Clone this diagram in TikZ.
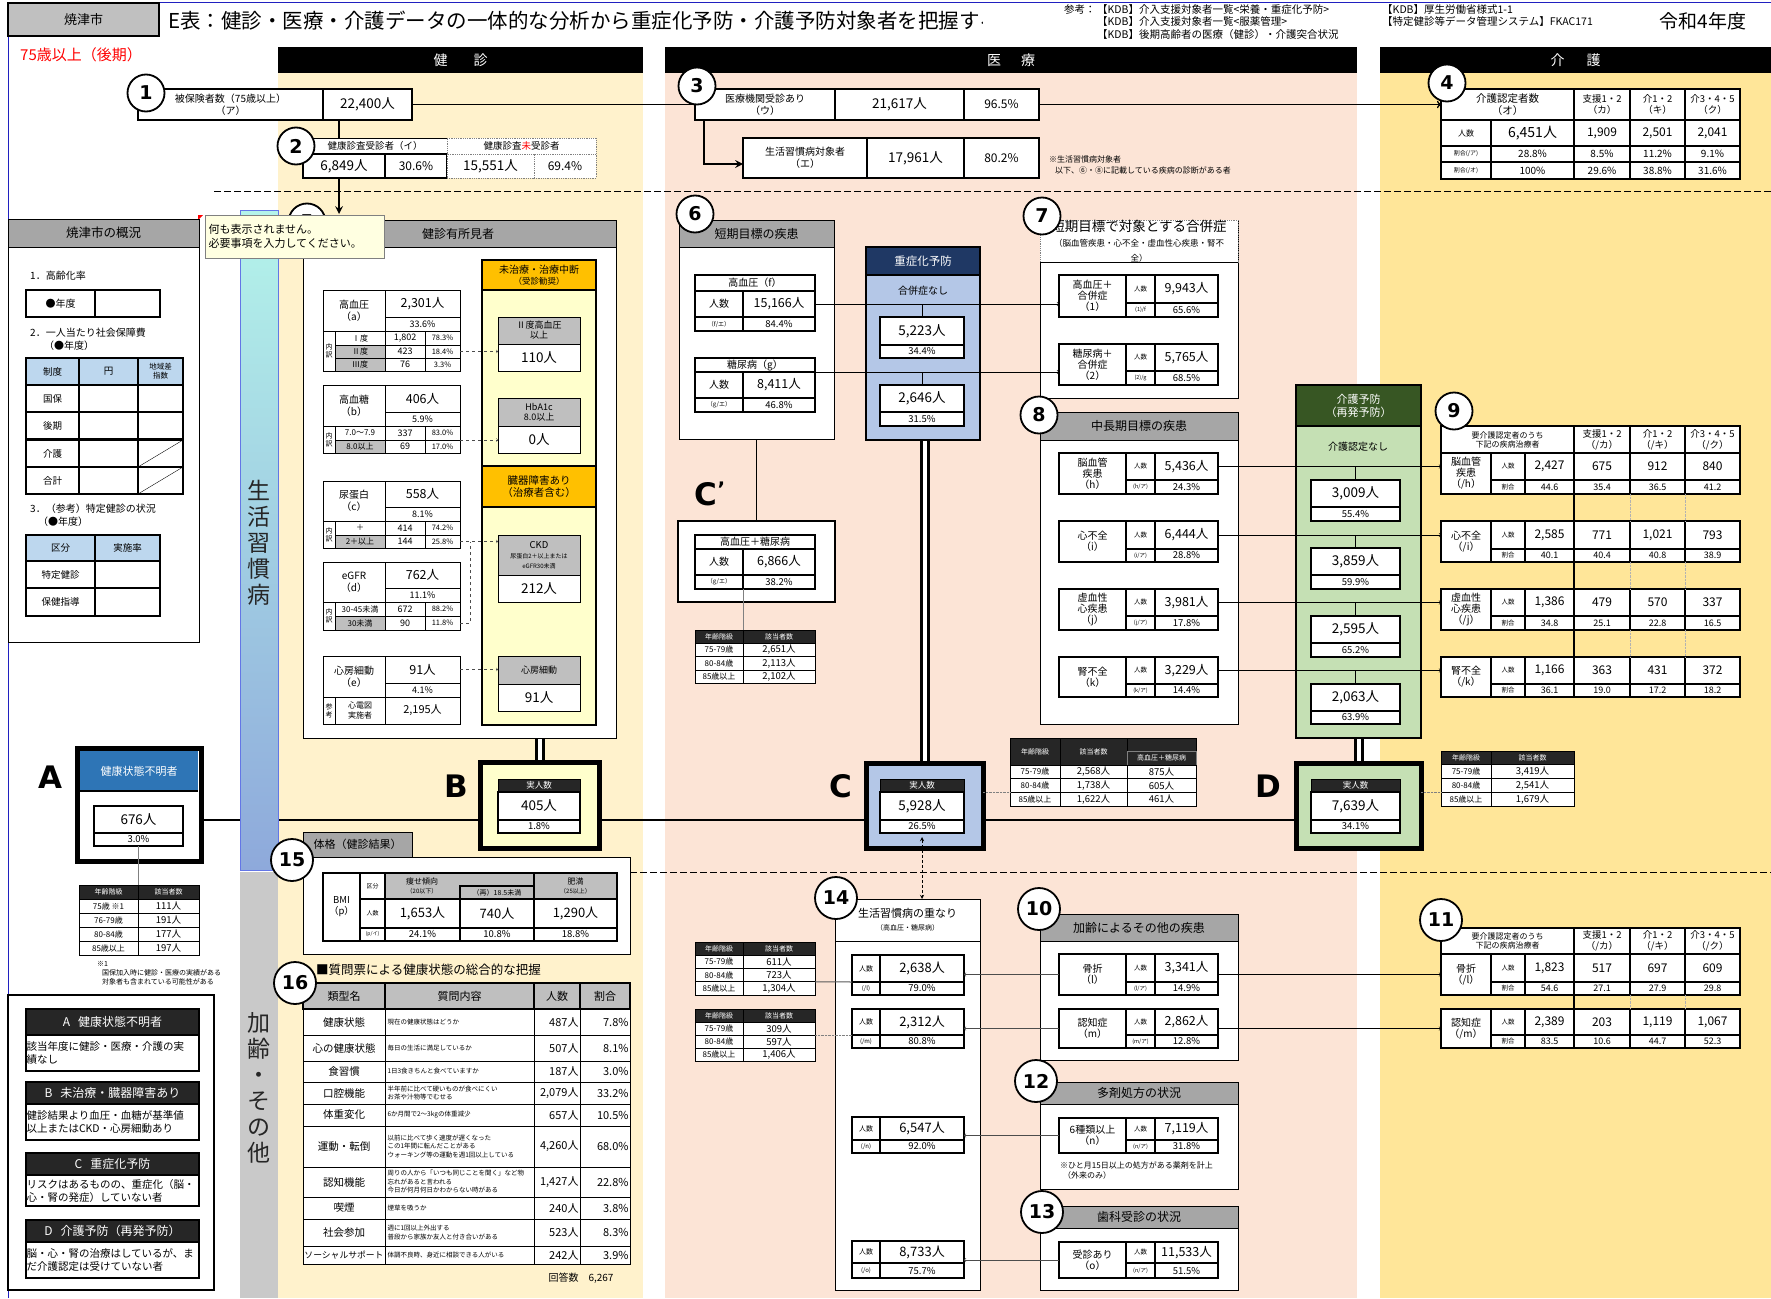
\documentclass[tikz,border=0pt]{standalone}
\usepackage{fontspec}
\setmainfont{Noto Sans CJK JP}
\newfontfamily\lat{DejaVu Sans}
\usetikzlibrary{positioning, arrows, calc}

\definecolor{kenshin}{HTML}{FFF2CC}
\definecolor{iryo}{HTML}{FCE4D6}
\definecolor{kaigo}{HTML}{FFE699}
\definecolor{hdgray}{HTML}{A6A6A6}
\definecolor{cgray}{HTML}{BFBFBF}
\definecolor{cityg}{HTML}{C0C0C0}
\definecolor{dk}{HTML}{262626}
\definecolor{orng}{HTML}{FFC000}
\definecolor{lyel}{HTML}{FFFFCC}
\definecolor{navy}{HTML}{1F3864}
\definecolor{lblue}{HTML}{B4C7E7}
\definecolor{dgreen}{HTML}{375623}
\definecolor{lgreen}{HTML}{C5E0B4}
\definecolor{ablue}{HTML}{2E75B6}
\definecolor{tblue}{HTML}{BDD7EE}
\definecolor{memoy}{HTML}{FFFFE1}
\definecolor{aqua}{HTML}{B4F4EA}
\definecolor{barblue}{HTML}{8EA9DB}
\definecolor{barg}{HTML}{C9C9C9}
\definecolor{pageblue}{HTML}{2020C0}

\pgfdeclarelayer{back}
\pgfdeclarelayer{lines}
\pgfsetlayers{back,lines,main}

\tikzset{
  >=stealth,
  cell/.style={draw, line width=0.8pt, fill=white, inner sep=0pt, outer sep=0pt,
    align=center, font=\fs{9}{10}},
  tb/.style={line width=1.2pt},
  grayhd/.style={fill=hdgray, font=\fs{12}{14}},
  dkhd/.style={fill=dk, text=white},
  numc/.style={circle, draw, line width=1.8pt, fill=white, minimum size=37pt,
    inner sep=0pt, font=\lat\bfseries\fs{19}{19}},
  numcc/.style={numc, minimum size=42pt},
  biglab/.style={font=\lat\bfseries\fs{31}{31}},
  colhead/.style={fill=black, text=white, inner sep=0pt, anchor=north west,
    minimum height=26pt, font=\fs{14}{16}},
  conn/.style={-to, line width=0.6pt},
  dbl/.style={double, double distance=4pt, line width=3pt},
  txt/.style={anchor=west, inner sep=0pt, font=\fs{10}{12}},
}

\newcommand\fs[2]{\fontsize{#1}{#2}\selectfont}
% box by corners: name, x1, y1, x2, y2, options, text
\newcommand\tcell[7]{\node[cell,minimum width={((#4)-(#2))*1pt},
  minimum height={((#5)-(#3))*1pt},anchor=north west,#6] (#1) at ({#2},{#3}) {#7};}

% health check findings
\newcommand\hmain[7]{%
  \tcell{#1L}{323}{#2}{385}{#4}{font=\fs{10}{12}}{#5}
  \tcell{#1V}{385}{#2}{460}{#3}{font=\fs{12.5}{14}}{#6}
  \tcell{#1P}{385}{#3}{460}{#4}{font=\fs{9}{10}}{#7}}
\newcommand\hsub[7]{%
  \tcell{#1}{335}{#2}{385}{#3}{fill=#7,font=\fs{8}{9}}{#4}
  \tcell{#1n}{385}{#2}{425}{#3}{font=\fs{9}{10}}{#5}
  \tcell{#1p}{425}{#2}{460}{#3}{font=\fs{7.5}{8}}{#6}}

% short tables in column 6
\newcommand\stab[9]{%
  \tcell{#1t}{695}{#2}{815}{#3}{tb,font=\fs{10}{11}}{#6}
  \tcell{#1n}{695}{#3}{743}{#4}{tb,font=\fs{10}{11}}{人数}
  \tcell{#1v}{743}{#3}{815}{#4}{tb,font=\fs{12.5}{14}}{#7}
  \tcell{#1r}{695}{#4}{743}{#5}{tb,font=\fs{6}{7}}{#8}
  \tcell{#1p}{743}{#4}{815}{#5}{tb,font=\fs{9.5}{10}}{#9}}

% disease tables (7, 8, 10, 12, 13)
\newcommand\dtab[8]{%
  \tcell{#1L}{1059}{#2}{1126}{#4}{tb,font=\fs{10}{11}}{#5}
  \tcell{#1n}{1126}{#2}{1155}{#3}{tb,font=\fs{6.5}{7}}{人数}
  \tcell{#1v}{1155}{#2}{1218}{#3}{tb,font=\fs{12.5}{14}}{#7}
  \tcell{#1r}{1126}{#3}{1155}{#4}{tb,font=\fs{5.5}{6}}{#6}
  \tcell{#1p}{1155}{#3}{1218}{#4}{tb,font=\fs{9.5}{10}}{#8}}

% boxes in 14
\newcommand\gtab[7]{%
  \tcell{#1n}{852}{#2}{880}{#3}{tb,font=\fs{7}{8}}{人数}
  \tcell{#1v}{880}{#2}{964}{#3}{tb,font=\fs{13}{15}}{#6}
  \tcell{#1r}{852}{#3}{880}{#4}{tb,font=\fs{6}{7}}{#5}
  \tcell{#1p}{880}{#3}{964}{#4}{tb,font=\fs{9.5}{10}}{#7}}

% value + ratio pair
\newcommand\vpair[8]{%
  \tcell{#1v}{#2}{#4}{#3}{#5}{tb,font=\fs{13.5}{15}}{#7}
  \tcell{#1p}{#2}{#5}{#3}{#6}{tb,font=\fs{9.5}{10}}{#8}}

% care tables (9, 11)
\newcommand\kleft[5]{%
  \tcell{#1L}{1441}{#2}{1491}{#4}{tb,font=\fs{10}{11}}{#5}
  \tcell{#1n}{1491}{#2}{1525}{#3}{tb,font=\fs{6.5}{7}}{人数}
  \tcell{#1r}{1491}{#3}{1525}{#4}{tb,font=\fs{6.5}{7}}{割合}}
\newcommand\kvals[5]{%
  \foreach \kv/\kp [count=\c] in {#5} {
    \pgfmathsetmacro\xa{{1525,1574,1630,1685}[\c-1]}
    \pgfmathsetmacro\xb{{1574,1630,1685,1740}[\c-1]}
    \tcell{#1v\c}{\xa}{#2}{\xb}{#3}{tb,font=\fs{12}{14}}{\kv}
    \tcell{#1p\c}{\xa}{#3}{\xb}{#4}{tb,font=\fs{9}{10}}{\kp}
  }}
\newcommand\khead[3]{%
  \tcell{#1}{1441}{#2}{1574}{#3}{tb,font=\fs{8}{9}}{要介護認定者のうち\\下記の疾病治療者}
  \tcell{#1b}{1574}{#2}{1630}{#3}{tb,font=\fs{9.5}{11}}{支援1・2\\（/カ）}
  \tcell{#1c}{1630}{#2}{1685}{#3}{tb,font=\fs{9.5}{11}}{介1・2\\（/キ）}
  \tcell{#1d}{1685}{#2}{1740}{#3}{tb,font=\fs{9.5}{11}}{介3・4・5\\（/ク）}}

% age tables: name, x0, xm, x1, y0, row height, rows
\newcommand\agetab[7]{%
  \tcell{#1-ha}{#2}{#5}{#3}{#5+#6}{dkhd,font=\fs{7}{8}}{年齢階級}
  \tcell{#1-hb}{#3}{#5}{#4}{#5+#6}{dkhd,font=\fs{7}{8}}{該当者数}
  \foreach \ka/\kb [count=\i] in {#7} {
    \tcell{#1-a\i}{#2}{#5+#6*\i}{#3}{#5+#6*\i+#6}{font=\fs{8}{9}}{\ka}
    \tcell{#1-b\i}{#3}{#5+#6*\i}{#4}{#5+#6*\i+#6}{font=\fs{9.5}{10}}{\kb}
  }}

% questionnaire rows
\newcommand\qrow[7]{%
  \tcell{#1t}{303}{#2}{385}{#3}{font=\fs{10.5}{12}}{#4}
  \tcell{#1c}{385}{#2}{534}{#3}{font=\fs{6.5}{8.5},align=left,text width=144pt}{#5}
  \tcell{#1n}{534}{#2}{580}{#3}{font=\fs{11}{12},align=right,text width=43pt}{#6}
  \tcell{#1p}{580}{#2}{630}{#3}{font=\fs{11}{12},align=right,text width=47pt}{#7}}

% legend blocks
\newcommand\lgblock[6]{%
  \tcell{#1h}{26}{#2}{199}{#3}{dkhd,tb,font=\fs{12}{14}}{#5}
  \tcell{#1b}{26}{#3}{199}{#4}{tb,text width=172pt,align=left,font=\fs{10.5}{13}}{#6}}

\begin{document}
\begin{tikzpicture}[x=1pt, y=-1pt]
\useasboundingbox (0,0) rectangle (1771,1298);

\begin{pgfonlayer}{back}
  \fill[white] (0,0) rectangle (1771,1298);
  \fill[kenshin] (278,73) rectangle (643,1298);
  \fill[iryo] (665,73) rectangle (1357,1298);
  \fill[kaigo] (1380,73) rectangle (1771,1298);
  \draw[pageblue, line width=1pt] (8,1298) -- (8,3) -- (1771,3);
  \draw[dash pattern=on 7pt off 3pt, line width=0.8pt] (214,191) -- (1771,191);
  \draw[dash pattern=on 7pt off 3pt, line width=0.8pt] (240,872) -- (1771,872);
\end{pgfonlayer}

% side bars
\shade[top color=aqua, bottom color=barblue, draw=barblue!70!blue] (240,210) rectangle (278,870);
\fill[barg] (240,872) rectangle (278,1298);
\node[align=center, inner sep=0pt, font=\fs{23}{26}, text=black!85] (barL) at (259,543) {生\\活\\習\\慣\\病};
\node[align=center, inner sep=0pt, font=\fs{23}{26}, text=black!85] (barO) at (259,1088) {加\\齢\\・\\そ\\の\\他};

% title lines
\tcell{city}{8}{3}{159}{36}{fill=cityg, line width=1.6pt, font=\fs{13}{15}}{焼津市}
\begin{scope}
  \clip (160,3) rectangle (982,40);
  \node[anchor=west, inner sep=0pt, font=\fs{20.5}{23}] (title) at (168,21)
    {E表：健診・医療・介護データの一体的な分析から重症化予防・介護予防対象者を把握する};
\end{scope}
\node[txt, font=\fs{10.5}{12.5}] (refT) at (1064,10) {参考：};
\node[anchor=north west, inner sep=0pt, align=left, font=\fs{10.5}{12.5}] (refL) at (1097,4)
  {【KDB】介入支援対象者一覧<栄養・重症化予防>\\【KDB】介入支援対象者一覧<服薬管理>\\【KDB】後期高齢者の医療（健診）・介護突合状況};
\node[anchor=north west, inner sep=0pt, align=left, font=\fs{10.5}{12.5}] (refR) at (1382,4)
  {【KDB】厚生労働省様式1-1\\【特定健診等データ管理システム】FKAC171};
\node[inner sep=0pt, font=\fs{19}{21}] (year) at (1703,21) {令和4年度};
\node[txt, text=red, font=\fs{15}{17}] (age75) at (20,55) {75歳以上（後期）};

\node[colhead, minimum width=365pt] (hdK) at (278,47) {健\hspace{26pt}診};
\node[colhead, minimum width=692pt] (hdI) at (665,47) {医\hspace{20pt}療};
\node[colhead, minimum width=391pt] (hdC) at (1380,47) {介\hspace{22pt}護};

% 1
\tcell{v1lab}{138}{89}{323}{120}{tb, font=\fs{10}{12}}{被保険者数（75歳以上）\\（ア）}
\tcell{v1val}{323}{89}{412}{120}{tb, font=\fs{13.5}{15}}{22,400人}
\node[numc] (n1) at (146,93) {1};

% 4
\tcell{k4h1}{1441}{89}{1574}{120}{tb, font=\fs{10.5}{12}}{介護認定者数\\（オ）}
\tcell{k4h2}{1574}{89}{1630}{120}{tb, font=\fs{9.5}{11}}{支援1・2\\（カ）}
\tcell{k4h3}{1630}{89}{1685}{120}{tb, font=\fs{9.5}{11}}{介1・2\\（キ）}
\tcell{k4h4}{1685}{89}{1740}{120}{tb, font=\fs{9.5}{11}}{介3・4・5\\（ク）}
\tcell{k4n}{1441}{120}{1491}{146}{tb, font=\fs{8}{9}}{人数}
\tcell{k4v1}{1491}{120}{1574}{146}{tb, font=\fs{14}{16}}{6,451人}
\tcell{k4v2}{1574}{120}{1630}{146}{tb, font=\fs{12}{14}}{1,909}
\tcell{k4v3}{1630}{120}{1685}{146}{tb, font=\fs{12}{14}}{2,501}
\tcell{k4v4}{1685}{120}{1740}{146}{tb, font=\fs{12}{14}}{2,041}
\tcell{k4a}{1441}{146}{1491}{162}{tb, font=\fs{6}{7}}{割合(/ア)}
\tcell{k4a1}{1491}{146}{1574}{162}{tb, font=\fs{10}{11}}{28.8\%}
\tcell{k4a2}{1574}{146}{1630}{162}{tb, font=\fs{10}{11}}{8.5\%}
\tcell{k4a3}{1630}{146}{1685}{162}{tb, font=\fs{10}{11}}{11.2\%}
\tcell{k4a4}{1685}{146}{1740}{162}{tb, font=\fs{10}{11}}{9.1\%}
\tcell{k4o}{1441}{162}{1491}{179}{tb, font=\fs{6}{7}}{割合(/オ)}
\tcell{k4o1}{1491}{162}{1574}{179}{tb, font=\fs{10}{11}}{100\%}
\tcell{k4o2}{1574}{162}{1630}{179}{tb, font=\fs{10}{11}}{29.6\%}
\tcell{k4o3}{1630}{162}{1685}{179}{tb, font=\fs{10}{11}}{38.8\%}
\tcell{k4o4}{1685}{162}{1740}{179}{tb, font=\fs{10}{11}}{31.6\%}
\draw[line width=2.2pt] (k4h1.north west) rectangle (k4o4.south east);
\node[numc] (n4) at (1447,83) {4};

% 2
\coordinate (x339) at (339,0);
\tcell{v2ha}{303}{138}{447}{154}{font=\fs{9.5}{11}}{健康診査受診者（イ）}
\tcell{v2a}{303}{154}{385}{178}{tb, font=\fs{13.5}{15}}{6,849人}
\tcell{v2b}{385}{154}{447}{178}{tb, font=\fs{12}{14}}{30.6\%}
\tcell{v2hb}{447}{138}{596}{154}{draw=gray, densely dotted, font=\fs{9.5}{11}}{健康診査\textcolor{red}{未}受診者}
\tcell{v2c}{447}{154}{534}{178}{draw=gray, densely dotted, font=\fs{13.5}{15}}{15,551人}
\tcell{v2d}{534}{154}{596}{178}{draw=gray, densely dotted, font=\fs{12}{14}}{69.4\%}
\node[numc] (n2) at (296,146) {2};
\draw[line width=1.6pt] (v1val.south -| x339) -- (v2ha.north -| x339);

% 5
\tcell{hs}{300}{220}{616}{247}{grayhd}{健診有所見者}
\tcell{hsbody}{303}{247}{616}{738}{}{}
\node[numc] (n5) at (307,222) {5};
\coordinate (a5) at (339,214);
\draw[->, line width=2.4pt] (v2a.south -| x339) -- (a5);
\tcell{memo}{205}{215}{384}{258}{fill=memoy, draw=gray, text width=172pt, align=left, font=\fs{11}{14}}{何も表示されません。\\必要事項を入力してください。}
\fill[red] (198,215) -- (203,215) -- (198,220) -- cycle;

\hmain{a}{290}{317}{331}{高血圧\\（a）}{2,301人}{33.6\%}
\tcell{au}{323}{331}{335}{371}{font=\fs{7}{8}}{内\\訳}
\hsub{a1}{331}{345}{Ⅰ度}{1,802}{78.3\%}{white}
\hsub{a2}{345}{358}{Ⅱ度}{423}{18.4\%}{cgray}
\hsub{a3}{358}{371}{Ⅲ度}{76}{3.3\%}{cgray}
\hmain{b}{385}{412}{426}{高血糖\\（b）}{406人}{5.9\%}
\tcell{bu}{323}{426}{335}{453}{font=\fs{7}{8}}{内\\訳}
\hsub{b1}{426}{440}{7.0～7.9}{337}{83.0\%}{white}
\hsub{b2}{440}{453}{8.0以上}{69}{17.0\%}{cgray}
\hmain{c}{481}{507}{521}{尿蛋白\\（c）}{558人}{8.1\%}
\tcell{cu}{323}{521}{335}{548}{font=\fs{7}{8}}{内\\訳}
\hsub{c1}{521}{535}{＋}{414}{74.2\%}{white}
\hsub{c2}{535}{548}{2＋以上}{144}{25.8\%}{cgray}
\hmain{d}{562}{588}{602}{eGFR\\（d）}{762人}{11.1\%}
\tcell{du}{323}{602}{335}{630}{font=\fs{7}{8}}{内\\訳}
\hsub{d1}{602}{616}{30-45未満}{672}{88.2\%}{white}
\hsub{d2}{616}{630}{30未満}{90}{11.8\%}{cgray}
\hmain{e}{656}{683}{697}{心房細動\\（e）}{91人}{4.1\%}
\tcell{eu}{323}{697}{335}{724}{font=\fs{7}{8}}{参\\考}
\tcell{er}{335}{697}{385}{724}{font=\fs{8}{9.5}}{心電図\\実施者}
\tcell{erv}{385}{697}{460}{724}{font=\fs{11}{12}}{2,195人}

\tcell{mt}{482}{260}{596}{725}{fill=lyel, line width=2pt}{}
\tcell{mth}{482}{260}{596}{290}{fill=orng, line width=2pt, font=\fs{10}{11}}{未治療・治療中断\\\fs{8.5}{10}（受診勧奨）}
\tcell{mth2}{482}{466}{596}{507}{fill=orng, line width=2pt, font=\fs{10.5}{12}}{臓器障害あり\\（治療者含む）}
\tcell{bp2h}{498}{317}{580}{344}{fill=cgray, font=\fs{9}{10}}{Ⅱ度高血圧\\以上}
\tcell{bp2}{498}{344}{580}{371}{font=\fs{13.5}{15}}{110人}
\tcell{hbh}{498}{398}{580}{426}{fill=cgray, font=\fs{9}{10}}{HbA1c\\8.0以上}
\tcell{hb}{498}{426}{580}{453}{font=\fs{13.5}{15}}{0人}
\tcell{ckdh}{498}{535}{580}{575}{fill=cgray, font=\fs{9.5}{10}}{CKD\\\fs{6}{7}尿蛋白2＋以上または\\\fs{6}{7}eGFR30未満}
\tcell{ckd}{498}{575}{580}{602}{font=\fs{13.5}{15}}{212人}
\tcell{afh}{498}{656}{580}{684}{fill=cgray, font=\fs{9}{10}}{心房細動}
\tcell{af}{498}{684}{580}{711}{font=\fs{13.5}{15}}{91人}
\draw[dashed, -to, black!70] (a2p.east) -- (a2p.east -| bp2.west);
\draw[dashed, -to, black!70] (b2p.north east) -- (b2p.north east -| hb.west);
\draw[dashed, -to, black!70] (c2p.east) -- (c2p.east -| ckdh.west);
\draw[dashed, black!70] (d2p.east) -| ([xshift=10pt]c2p.east);
\draw[dashed, -to, black!70] (eV.east) -- (eV.east -| afh.west);

% B
\tcell{Bbox}{480}{762}{599}{848}{fill=lyel, line width=5pt}{}
\tcell{Bh}{498}{779}{580}{792}{dkhd, font=\fs{8.5}{9}}{実人数}
\vpair{B}{498}{580}{792}{820}{833}{405人}{1.8\%}
\node[biglab] (labB) at (456,786) {B};

% A
\tcell{Abox}{77}{748}{201}{861}{line width=5pt}{}
\tcell{Ahd}{80}{751}{198}{791}{fill=ablue, draw=none, text=white, font=\fs{11}{13}}{健康状態不明者}
\draw[line width=1.5pt] (Ahd.south west) -- (Ahd.south east);
\vpair{A}{94}{183}{806}{833}{846}{676人}{3.0\%}
\node[biglab] (labA) at (50,777) {A};
\agetab{ageA}{79}{138}{199}{885}{14}{{75歳 ※1}/111人, 76-79歳/191人, 80-84歳/177人, 85歳以上/197人}
\draw[gray] (Ap.south) -- (Ap.south |- ageA-ha.north);
\node[anchor=north west, inner sep=0pt, align=left, font=\fs{7}{9}] (noteA) at (97,961)
  {※1\\\hspace*{5pt}国保加入時に健診・医療の実績がある\\\hspace*{5pt}対象者も含まれている可能性がある};

% overview panel
\tcell{gkb}{8}{219}{199}{642}{line width=1pt}{}
\tcell{gkh}{8}{219}{199}{247}{grayhd, line width=1pt, font=\fs{12.5}{14}}{焼津市の概況}
\node[txt] (g1t) at (30,276) {1．高齢化率};
\tcell{g1a}{26}{290}{95}{317}{tb, font=\fs{10}{12}}{●年度}
\tcell{g1b}{95}{290}{160}{317}{tb}{}
\node[txt] (g2t) at (30,333) {2．一人当たり社会保障費};
\node[txt] (g2y) at (44,346) {（●年度）};
\tcell{g2h1}{26}{358}{79}{385}{tb, fill=tblue, font=\fs{9.5}{11}}{制度}
\tcell{g2h2}{79}{358}{138}{385}{tb, fill=tblue, font=\fs{9.5}{11}}{円}
\tcell{g2h3}{138}{358}{183}{385}{tb, fill=tblue, font=\fs{7.5}{9}}{地域差\\指数}
\foreach \sname/\ya [count=\i] in {国保/385, 後期/412, 介護/440, 合計/467} {
  \tcell{g2r\i a}{26}{\ya}{79}{\ya+27}{tb, font=\fs{9.5}{11}}{\sname}
  \tcell{g2r\i b}{79}{\ya}{138}{\ya+27}{tb}{}
  \tcell{g2r\i c}{138}{\ya}{183}{\ya+27}{tb}{}
}
\draw (g2r3c.south west) -- (g2r3c.north east);
\draw (g2r4c.south west) -- (g2r4c.north east);
\node[txt] (g3t) at (30,509) {3．（参考）特定健診の状況};
\node[txt] (g3y) at (38,522) {（●年度）};
\tcell{g3h1}{26}{535}{95}{561}{tb, fill=tblue, font=\fs{9.5}{11}}{区分}
\tcell{g3h2}{95}{535}{160}{561}{tb, fill=tblue, font=\fs{9.5}{11}}{実施率}
\tcell{g3r1a}{26}{561}{95}{588}{tb, font=\fs{9.5}{11}}{特定健診}
\tcell{g3r1b}{95}{561}{160}{588}{tb}{}
\tcell{g3r2a}{26}{588}{95}{616}{tb, font=\fs{9.5}{11}}{保健指導}
\tcell{g3r2b}{95}{588}{160}{616}{tb}{}

% legend
\tcell{lg}{8}{995}{214}{1290}{line width=2pt}{}
\lgblock{lgA}{1009}{1035}{1071}{A\hspace{8pt}健康状態不明者}{該当年度に健診・医療・介護の実\\績なし}
\lgblock{lgB}{1082}{1104}{1140}{B\hspace{8pt}未治療・臓器障害あり}{健診結果より血圧・血糖が基準値\\以上またはCKD・心房細動あり}
\lgblock{lgC}{1153}{1175}{1206}{C\hspace{8pt}重症化予防}{リスクはあるものの、重症化（脳・\\心・腎の発症）していない者}
\lgblock{lgD}{1220}{1242}{1278}{D\hspace{8pt}介護予防（再発予防）}{脳・心・腎の治療はしているが、ま\\だ介護認定は受けていない者}

% 15
\tcell{bmih}{303}{832}{412}{857}{grayhd, font=\fs{11}{13}}{体格（健診結果）}
\tcell{bmib}{303}{857}{630}{954}{}{}
\node[numcc] (n15) at (292,860) {15};
\tcell{bmiL}{323}{873}{360}{941}{tb, font=\fs{9.5}{11}}{BMI\\（p）}
\tcell{bmiK}{360}{873}{385}{899}{tb, font=\fs{6}{7}}{区分}
\tcell{bmiN}{360}{899}{385}{928}{tb, font=\fs{6}{7}}{人数}
\tcell{bmiR}{360}{928}{385}{941}{tb, font=\fs{5}{6}}{(p/イ)}
\tcell{yaseH}{385}{873}{534}{899}{tb, fill=cgray}{}
\tcell{saiH}{460}{886}{534}{899}{tb, fill=cgray, font=\fs{7}{8}}{（再）18.5未満}
\node[align=center, inner sep=0pt, font=\fs{8}{9}] (yaseT) at (422,886) {痩せ傾向\\\fs{6}{7}（20以下）};
\tcell{himH}{534}{873}{617}{899}{tb, fill=cgray, font=\fs{8}{9}}{肥満\\\fs{6}{7}（25以上）}
\tcell{yaseV}{385}{899}{460}{928}{tb, font=\fs{13}{15}}{1,653人}
\tcell{saiV}{460}{899}{534}{928}{tb, font=\fs{13}{15}}{740人}
\tcell{himV}{534}{899}{617}{928}{tb, font=\fs{13}{15}}{1,290人}
\tcell{yaseP}{385}{928}{460}{941}{tb, font=\fs{9.5}{10}}{24.1\%}
\tcell{saiP}{460}{928}{534}{941}{tb, font=\fs{9.5}{10}}{10.8\%}
\tcell{himP}{534}{928}{617}{941}{tb, font=\fs{9.5}{10}}{18.8\%}

% 16
\node[txt, font=\fs{12.5}{14}] (qtitle) at (316,970) {■質問票による健康状態の総合的な把握};
\tcell{qh1}{303}{983}{385}{1009}{tb, fill=cgray, font=\fs{11}{12}}{類型名}
\tcell{qh2}{385}{983}{534}{1009}{tb, fill=cgray, font=\fs{11}{12}}{質問内容}
\tcell{qh3}{534}{983}{580}{1009}{tb, fill=cgray, font=\fs{11}{12}}{人数}
\tcell{qh4}{580}{983}{630}{1009}{tb, fill=cgray, font=\fs{11}{12}}{割合}
\qrow{q1}{1009}{1035}{健康状態}{現在の健康状態はどうか}{487人}{7.8\%}
\qrow{q2}{1035}{1061}{心の健康状態}{毎日の生活に満足しているか}{507人}{8.1\%}
\qrow{q3}{1061}{1082}{食習慣}{1日3食きちんと食べていますか}{187人}{3.0\%}
\qrow{q4}{1082}{1104}{口腔機能}{半年前に比べて硬いものが食べにくい\\お茶や汁物等でむせる}{2,079人}{33.2\%}
\qrow{q5}{1104}{1126}{体重変化}{6か月間で2～3kgの体重減少}{657人}{10.5\%}
\qrow{q6}{1126}{1167}{運動・転倒}{以前に比べて歩く速度が遅くなった\\この1年間に転んだことがある\\ウォーキング等の運動を週1回以上している}{4,260人}{68.0\%}
\qrow{q7}{1167}{1197}{認知機能}{周りの人から「いつも同じことを聞く」など物\\忘れがあると言われる\\今日が何月何日かわからない時がある}{1,427人}{22.8\%}
\qrow{q8}{1197}{1219}{喫煙}{煙草を吸うか}{240人}{3.8\%}
\qrow{q9}{1219}{1246}{社会参加}{週に1回以上外出する\\普段から家族か友人と付き合いがある}{523人}{8.3\%}
\qrow{q10}{1246}{1264}{\fs{8.8}{10}ソーシャルサポート}{体調不良時、身近に相談できる人がいる}{242人}{3.9\%}
\node[font=\fs{10}{12}, inner sep=0pt] (qcount) at (581,1278) {回答数\hspace{10pt}6,267};
\node[numcc] (n16) at (295,983) {16};

% 3
\tcell{i3lab}{695}{89}{835}{120}{tb, font=\fs{10}{12}}{医療機関受診あり\\（ウ）}
\tcell{i3val}{835}{89}{964}{120}{tb, font=\fs{13.5}{15}}{21,617人}
\tcell{i3pct}{964}{89}{1039}{120}{tb, font=\fs{12}{14}}{96.5\%}
\node[numc] (n3) at (697,86) {3};
\tcell{iElab}{743}{138}{867}{178}{tb, font=\fs{10}{12}}{生活習慣病対象者\\（エ）}
\tcell{iEval}{867}{138}{964}{178}{tb, font=\fs{13.5}{15}}{17,961人}
\tcell{iEpct}{964}{138}{1039}{178}{tb, font=\fs{12}{14}}{80.2\%}
\draw[->, line width=2.4pt] ([xshift=9pt]i3lab.south west) |- ([yshift=-6pt]iElab.west);
\node[anchor=north west, inner sep=0pt, align=left, font=\fs{8}{10.5}] (note3) at (1049,156)
  {※生活習慣病対象者\\\hspace*{6pt}以下、⑥・⑧に記載している疾病の診断がある者};

% 6
\tcell{s6h}{679}{220}{834}{247}{grayhd}{短期目標の疾患}
\tcell{s6b}{679}{247}{834}{439}{}{}
\node[numc] (n6) at (695,214) {6};
\stab{sf}{275}{291}{317}{331}{高血圧（f）}{15,166人}{（f/エ）}{84.4\%}
\stab{sg}{358}{372}{398}{412}{糖尿病（g）}{8,411人}{（g/エ）}{46.8\%}

% C'
\tcell{Cpbox}{678}{521}{835}{602}{line width=2.5pt}{}
\stab{cp}{535}{549}{575}{589}{高血圧＋糖尿病}{6,866人}{（g/エ）}{38.2\%}
\node[biglab] (labCp) at (710,494) {C\raisebox{9pt}{\fs{20}{20}’}};
\agetab{ageCp}{695}{743}{815}{630}{13.3}{75-79歳/{2,651人}, 80-84歳/{2,113人}, 85歳以上/{2,102人}}
\draw[gray] (cpr.south east) -- (ageCp-ha.north east);

% 7
\tcell{c7b}{1040}{220}{1238}{398}{}{}
\tcell{c7h}{1040}{220}{1238}{260}{draw=gray, densely dotted, font=\fs{13.5}{15}}{短期目標で対象とする合併症\\\fs{8.5}{9.5}（脳血管疾患・心不全・虚血性心疾患・腎不\\\fs{8.5}{9.5}全）}
\draw[line width=0.8pt] (c7h.south west) -- (c7h.south east);
\node[numc] (n7) at (1042,216) {7};
\dtab{t1}{275}{303}{317}{高血圧＋\\合併症\\（1）}{(1)/f}{9,943人}{65.6\%}
\dtab{t2}{344}{371}{385}{糖尿病＋\\合併症\\（2）}{(2)/g}{5,765人}{68.5\%}

% C column
\tcell{Ch}{866}{247}{980}{275}{fill=navy, text=white, line width=1.5pt, font=\fs{11.5}{13}}{重症化予防}
\tcell{Cbody}{866}{275}{980}{440}{fill=lblue, line width=1.5pt}{}
\node[inner sep=0pt, font=\fs{10}{12}] (Cnone) at (923,291) {合併症なし};
\draw[conn] (sfv.east) -- (sfv.east -| t1L.west);
\draw[conn] (sgt.south east) -- (sgt.south east -| t2L.west);
\vpair{C1}{880}{964}{317}{345}{358}{5,223人}{34.4\%}
\vpair{C2}{880}{964}{385}{412}{426}{2,646人}{31.5\%}
\draw[line width=1pt] (C1v.north) -- (C1v.north |- sfv.east);
\draw[line width=1pt] (C2v.north) -- (C2v.north |- sgt.south east);

\tcell{Cbox}{866}{763}{983}{848}{fill=lblue, line width=5pt}{}
\tcell{Cbh}{880}{779}{964}{792}{dkhd, font=\fs{8.5}{9}}{実人数}
\vpair{Cb}{880}{964}{792}{820}{833}{5,928人}{26.5\%}
\node[biglab] (labC) at (841,786) {C};
\tcell{acha}{1010}{738}{1060}{765}{dkhd, font=\fs{7}{8}}{年齢階級}
\tcell{achb}{1060}{738}{1127}{765}{dkhd, font=\fs{7}{8}}{該当者数}
\tcell{achc}{1127}{738}{1196}{765}{dkhd}{}
\tcell{achd}{1127}{751}{1196}{765}{dkhd, draw=gray, font=\fs{7}{8}}{高血圧＋糖尿病}
\foreach \ka/\kb/\kc [count=\i] in {75-79歳/{2,568人}/875人, 80-84歳/{1,738人}/605人, 85歳以上/{1,622人}/461人} {
  \tcell{ac\i a}{1010}{765+13.67*(\i-1)}{1060}{765+13.67*\i}{font=\fs{8}{9}}{\ka}
  \tcell{ac\i b}{1060}{765+13.67*(\i-1)}{1127}{765+13.67*\i}{font=\fs{9.5}{10}}{\kb}
  \tcell{ac\i c}{1127}{765+13.67*(\i-1)}{1196}{765+13.67*\i}{font=\fs{9.5}{10}}{\kc}
}
\draw[gray, densely dotted] (Cbox.east |- ac3a.north west) -- (ac3a.north west);

% 8
\tcell{c8b}{1040}{440}{1238}{724}{}{}
\tcell{c8h}{1040}{412}{1238}{440}{grayhd}{中長期目標の疾患}
\node[numc] (n8) at (1039,415) {8};
\dtab{th}{453}{480}{494}{脳血管\\疾患\\（h）}{(h/ア)}{5,436人}{24.3\%}
\dtab{ti}{521}{549}{562}{心不全\\（i）}{(i/ア)}{6,444人}{28.8\%}
\dtab{tj}{589}{616}{630}{虚血性\\心疾患\\（j）}{(j/ア)}{3,981人}{17.8\%}
\dtab{tk}{657}{684}{697}{腎不全\\（k）}{(k/ア)}{3,229人}{14.4\%}

% 9
\khead{k9top}{426}{453}
\kleft{k9h}{453}{480}{494}{脳血管\\疾患\\（/h）}
\kvals{k9h}{453}{480}{494}{{2,427}/44.6, 675/35.4, 912/36.5, 840/41.2}
\kleft{k9i}{521}{549}{562}{心不全\\（/i）}
\kvals{k9i}{521}{549}{562}{{2,585}/40.1, 771/40.4, {1,021}/40.8, 793/38.9}
\kleft{k9j}{589}{616}{630}{虚血性\\心疾患\\（/j）}
\kvals{k9j}{589}{616}{630}{{1,386}/34.8, 479/25.1, 570/22.8, 337/16.5}
\kleft{k9k}{657}{684}{697}{腎不全\\（/k）}
\kvals{k9k}{657}{684}{697}{{1,166}/36.1, 363/19.0, 431/17.2, 372/18.2}
\foreach \ta/\tb in {k9h/k9i, k9i/k9j, k9j/k9k} {
  \draw[line width=1.8pt] (\ta p1.south east) -- (\tb v1.north east);
  \draw[gray!60, densely dotted] (\ta p2.south east) -- (\tb v2.north east);
  \draw[gray!60, densely dotted] (\ta p3.south east) -- (\tb v3.north east);
}
\node[numc] (n9) at (1454,411) {9};

% D column
\tcell{Dh}{1296}{385}{1421}{426}{fill=dgreen, text=white, line width=1.5pt, font=\fs{11}{13}}{介護予防\\（再発予防）}
\tcell{Dbody}{1296}{426}{1421}{738}{fill=lgreen, line width=1.5pt}{}
\node[inner sep=0pt, font=\fs{10}{12}] (Dnone) at (1358,447) {介護認定なし};
\foreach \tr in {h, i, j, k} {
  \draw[conn] (t\tr v.east) -- (t\tr v.east -| k9\tr L.west);
}
\vpair{D1}{1311}{1400}{480}{507}{521}{3,009人}{55.4\%}
\vpair{D2}{1311}{1400}{548}{575}{589}{3,859人}{59.9\%}
\vpair{D3}{1311}{1400}{616}{643}{657}{2,595人}{65.2\%}
\vpair{D4}{1311}{1400}{684}{711}{724}{2,063人}{63.9\%}
\draw[line width=1pt] (D1v.north) -- (D1v.north |- thv.east);
\draw[line width=1pt] (D2v.north) -- (D2v.north |- tiv.east);
\draw[line width=1pt] (D3v.north) -- (D3v.north |- tjv.east);
\draw[line width=1pt] (D4v.north) -- (D4v.north |- tkv.east);

\tcell{Dbox}{1296}{763}{1421}{848}{fill=lgreen, line width=5pt}{}
\tcell{Dbh}{1311}{779}{1400}{792}{dkhd, font=\fs{8.5}{9}}{実人数}
\vpair{Db}{1311}{1400}{792}{820}{833}{7,639人}{34.1\%}
\node[biglab] (labD) at (1268,786) {D};
\agetab{ageD}{1441}{1491}{1574}{751}{13.75}{75-79歳/{3,419人}, 80-84歳/{2,541人}, 85歳以上/{1,679人}}
\draw[gray, densely dotted] (Dbox.east |- ageD-a3.north west) -- (ageD-a3.north west);

% 14
\tcell{g14}{835}{899}{980}{1290}{}{}
\tcell{g14h}{835}{899}{980}{941}{font=\fs{11}{13}}{生活習慣病の重なり\\\fs{7}{8}（高血圧・糖尿病）}
\node[numcc] (n14) at (836,898) {14};
\gtab{g1}{955}{982}{995}{(/l)}{2,638人}{79.0\%}
\gtab{g2}{1009}{1035}{1048}{(/m)}{2,312人}{80.8\%}
\gtab{g3}{1117}{1140}{1153}{(/n)}{6,547人}{92.0\%}
\gtab{g4}{1241}{1263}{1278}{(/o)}{8,733人}{75.7\%}
\agetab{age14a}{695}{743}{815}{942}{13.25}{75-79歳/611人, 80-84歳/723人, 85歳以上/{1,304人}}
\agetab{age14b}{695}{743}{815}{1009}{13}{75-79歳/309人, 80-84歳/597人, 85歳以上/{1,406人}}
\draw[gray!70!black, line width=1pt] (age14a-b3.north east) -- (g1r.north west);
\draw[gray, densely dotted] (age14b-b2.north east) -- (g2r.north west);
\draw[densely dashed, <->, line width=0.9pt] ([yshift=-4pt]Cbp.south) -- (Cbp.south |- g14.north);

% 10
\tcell{b10}{1040}{941}{1238}{1060}{}{}
\tcell{h10}{1040}{914}{1238}{941}{grayhd}{加齢によるその他の疾患}
\node[numcc] (n10) at (1039,909) {10};
\dtab{tl}{954}{982}{995}{骨折\\（l）}{(l/ア)}{3,341人}{14.9\%}
\dtab{tm}{1009}{1035}{1048}{認知症\\（m）}{(m/ア)}{2,862人}{12.8\%}

% 12
\tcell{b12}{1040}{1104}{1238}{1189}{}{}
\tcell{h12}{1040}{1082}{1238}{1104}{grayhd}{多剤処方の状況}
\node[numcc] (n12) at (1036,1081) {12};
\dtab{tn}{1118}{1140}{1153}{6種類以上\\（n）}{(n/ア)}{7,119人}{31.8\%}
\node[anchor=north west, inner sep=0pt, align=left, font=\fs{8}{10}] (note12) at (1060,1162)
  {※ひと月15日以上の処方がある薬剤を計上\\\hspace*{3pt}（外来のみ）};

% 13
\tcell{b13}{1040}{1228}{1238}{1290}{}{}
\tcell{h13}{1040}{1206}{1238}{1228}{grayhd}{歯科受診の状況}
\node[numcc] (n13) at (1042,1212) {13};
\dtab{to}{1242}{1263}{1278}{受診あり\\（o）}{(n/ア)}{11,533人}{51.5\%}

\draw[conn, black!70] (tlL.west) -- (tlL.west -| g1v.east);
\draw[conn, black!70] (tmL.west) -- (tmL.west -| g2v.east);
\draw[conn, black!70] (tnL.west) -- (tnL.west -| g3v.east);
\draw[conn, black!70] (toL.west) -- (toL.west -| g4v.east);

% 11
\khead{k11top}{928}{954}
\kleft{k11l}{954}{982}{995}{骨折\\（/l）}
\kvals{k11l}{954}{982}{995}{{1,823}/54.6, 517/27.1, 697/27.9, 609/29.8}
\kleft{k11m}{1009}{1035}{1048}{認知症\\（/m）}
\kvals{k11m}{1009}{1035}{1048}{{2,389}/83.5, 203/10.6, {1,119}/44.7, {1,067}/52.3}
\draw[line width=1.8pt] (k11lp1.south east) -- (k11mv1.north east);
\draw[gray!60, densely dotted] (k11lp2.south east) -- (k11mv2.north east);
\draw[gray!60, densely dotted] (k11lp3.south east) -- (k11mv3.north east);
\node[numcc] (n11) at (1441,920) {11};
\draw[conn] (tlL.center -| tlv.east) -- (tlL.center -| k11lL.west);
\draw[conn] (tmL.center -| tmv.east) -- (tmL.center -| k11mL.west);

% long connectors
\begin{pgfonlayer}{lines}
  \draw[line width=2pt] (Abox.east |- Bp.north) -- (Bbox.west |- Bp.north);
  \draw[line width=2pt] (Bbox.east |- Bp.north) -- (Cbox.west |- Bp.north);
  \draw[line width=2pt] (Cbox.east |- Bp.north) -- (Dbox.west |- Bp.north);
  \draw[line width=1.6pt, -to] (v1val.east) -- (k4h1.west);
  \draw[dbl] (Bbox.north |- hsbody.south) -- (Bbox.north);
  \draw[dbl] (Cbox.north |- Cbody.south) -- (Cbox.north);
  \draw[dbl] (Dbox.north |- Dbody.south) -- (Dbox.north);
  \draw[line width=0.8pt] (s6b.south) -- (Cpbox.north);
\end{pgfonlayer}
\end{tikzpicture}
\end{document}
